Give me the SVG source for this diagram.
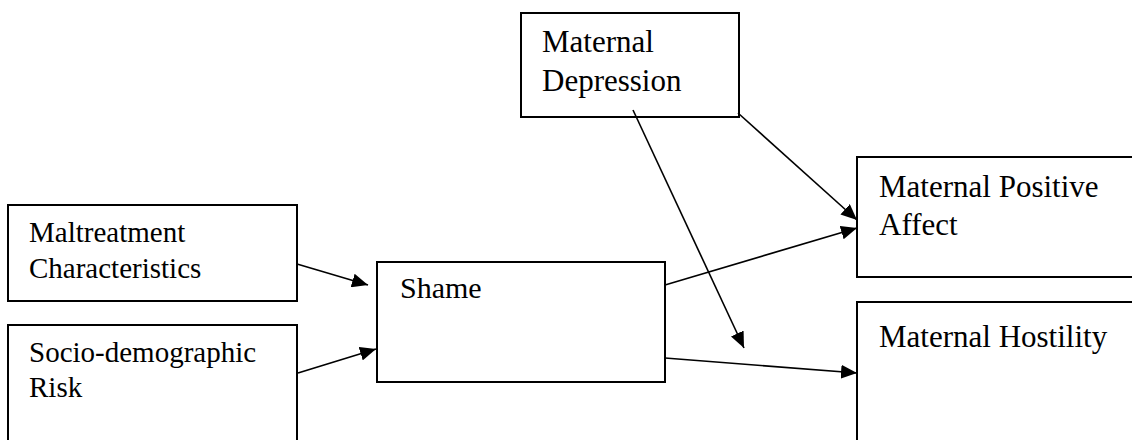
<svg xmlns="http://www.w3.org/2000/svg" width="1132" height="440" viewBox="0 0 1132 440">
<style>
.box{fill:#fff;stroke:#000;stroke-width:2}
.lbl{font-family:"Liberation Serif","Times New Roman",serif;fill:#000}
.edge{stroke:#000;stroke-width:1.6;fill:none;marker-end:url(#ah)}
</style>
<defs>
<marker id="ah" markerUnits="userSpaceOnUse" markerWidth="18" markerHeight="14" refX="16" refY="7" orient="auto">
<path d="M0,0 L16,7 L0,14 Z" fill="#000"/>
</marker>
</defs>
<rect width="1132" height="440" fill="#fff"/>
<g id="maltreatment">
<rect class="box" x="8" y="205" width="289" height="96"/>
<text class="lbl" x="29" y="242" font-size="29">Maltreatment</text>
<text class="lbl" x="29" y="278" font-size="29">Characteristics</text>
</g>
<g id="sociodemographic">
<rect class="box" x="8" y="325" width="289" height="130"/>
<text class="lbl" x="29" y="362" font-size="29">Socio-demographic</text>
<text class="lbl" x="29" y="397" font-size="29">Risk</text>
</g>
<g id="shame">
<rect class="box" x="377" y="262" width="288" height="120"/>
<text class="lbl" x="400" y="298" font-size="30">Shame</text>
</g>
<g id="depression">
<rect class="box" x="521" y="13" width="218" height="104"/>
<text class="lbl" x="542" y="52" font-size="31">Maternal</text>
<text class="lbl" x="542" y="91" font-size="31">Depression</text>
</g>
<g id="positive">
<rect class="box" x="857" y="157" width="290" height="120"/>
<text class="lbl" x="879" y="197" font-size="31">Maternal Positive</text>
<text class="lbl" x="879" y="235" font-size="31">Affect</text>
</g>
<g id="hostility">
<rect class="box" x="857" y="302" width="290" height="150"/>
<text class="lbl" x="879" y="347" font-size="31">Maternal Hostility</text>
</g>
<g id="connectors">
<line class="edge" x1="297" y1="264" x2="368" y2="285"/>
<line class="edge" x1="298" y1="373" x2="376" y2="349"/>
<line class="edge" x1="665" y1="285" x2="857" y2="228"/>
<line class="edge" x1="665" y1="358" x2="857" y2="373"/>
<line class="edge" x1="738" y1="113" x2="857" y2="220"/>
<line class="edge" x1="633" y1="110" x2="744" y2="348"/>
</g>
</svg>
